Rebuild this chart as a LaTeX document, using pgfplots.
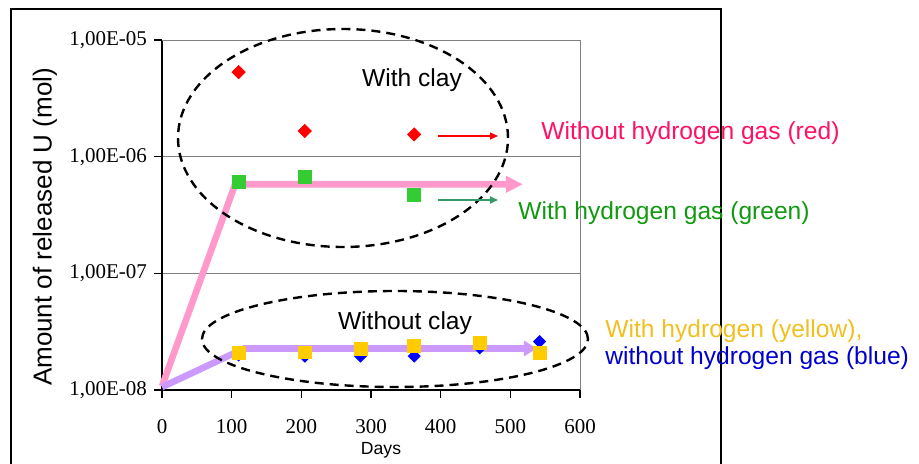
\documentclass[border=0pt]{standalone}
\usepackage{fontspec}
\setmainfont{Liberation Sans}
\newfontfamily\timesf{Liberation Serif}
\usepackage{pgfplots}
\pgfplotsset{compat=1.18}
\usetikzlibrary{arrows.meta}
\definecolor{mkred}{RGB}{255,0,0}
\definecolor{mkgreen}{RGB}{51,204,51}
\definecolor{mkyellow}{RGB}{255,204,0}
\definecolor{mkblue}{RGB}{0,0,255}
\definecolor{pinkarrow}{RGB}{255,153,204}
\definecolor{violetarrow}{RGB}{204,153,255}
\definecolor{txtred}{RGB}{255,17,102}
\definecolor{txtgreen}{RGB}{17,153,17}
\definecolor{txtyellow}{RGB}{240,192,32}
\definecolor{txtblue}{RGB}{0,0,204}
\definecolor{arrgreen}{RGB}{51,153,102}
\begin{document}
\begin{tikzpicture}[x=0.5pt,y=-0.5pt]
\useasboundingbox (0,0) rectangle (919,464);
\clip (0,0) rectangle (919,464);
% outer frame, bottom edge runs off the page
\draw[line width=1pt] (11,480) -- (11,9) -- (721,9) -- (721,480);
\begin{axis}[
  at={(81pt,-195pt)}, anchor=south west,
  scale only axis, width=209pt, height=175pt,
  xmin=0, xmax=600, ymode=log, ymin=1e-8, ymax=1e-5,
  axis x line*=bottom, axis y line*=left,
  axis line style={line width=0.6pt},
  xtick={0,100,...,600}, xticklabels={0,100,200,300,400,500,600},
  ytick={1e-8,1e-7,1e-6,1e-5},
  yticklabels={{1,00E-08},{1,00E-07},{1,00E-06},{1,00E-05}},
  yminorticks=false,
  tick align=outside, major tick length=4pt,
  tick style={black, line width=0.6pt},
  ymajorgrids, grid style={gray, line width=0.5pt},
  tick label style={font=\timesf\fontsize{10.5}{12}\selectfont},
  xticklabel style={yshift=-7pt},
  clip=false,
]
\draw[gray, line width=0.5pt] (rel axis cs:0,1) -- (rel axis cs:1,1) -- (rel axis cs:1,0);
% with clay, without hydrogen (red)
\addplot[only marks, mark=square*, mark size=2.3pt, mark options={rotate=45}, color=mkred]
  coordinates {(110,5.3e-6)(205,1.66e-6)(362,1.55e-6)};
% with clay, with hydrogen (green)
\addplot[only marks, mark=square*, mark size=3.2pt, color=mkgreen]
  coordinates {(110,6.1e-7)(205,6.7e-7)(362,4.7e-7)};
% without clay, without hydrogen (blue)
\addplot[only marks, mark=square*, mark size=2.1pt, mark options={rotate=45}, color=mkblue]
  coordinates {(110,2.0e-8)(205,1.95e-8)(285,1.95e-8)(362,1.95e-8)(456,2.3e-8)(542,2.6e-8)};
% without clay, with hydrogen (yellow)
\addplot[only marks, mark=square*, mark size=3.2pt, color=mkyellow]
  coordinates {(110,2.08e-8)(205,2.1e-8)(285,2.25e-8)(362,2.4e-8)(456,2.53e-8)(542,2.08e-8)};
% trend arrows
\addplot[color=pinkarrow, line width=3.3pt, line join=miter, -{Triangle[length=8.5pt,width=8pt]}]
  coordinates {(0,1.08e-8)(105,5.8e-7)(518,5.8e-7)};
\addplot[color=violetarrow, line width=3.3pt, line join=miter, -{Triangle[length=6.5pt,width=7.5pt]}]
  coordinates {(0,1.06e-8)(118,2.27e-8)(538,2.27e-8)};
\end{axis}
% annotations
\draw[line width=1.2pt, dash pattern=on 4.5pt off 3pt] (343,138) ellipse [x radius=82.5pt, y radius=54.5pt];
\draw[line width=1.2pt, dash pattern=on 4.5pt off 3pt] (395,339) ellipse [x radius=96.5pt, y radius=24pt];
\draw[mkred, line width=0.8pt, -{Triangle[length=4pt,width=3.5pt]}] (438,136) -- (498,136);
\draw[arrgreen, line width=0.8pt, -{Triangle[length=4pt,width=3.5pt]}] (438,200) -- (498,200);
\node[font=\fontsize{12.3}{14}\selectfont] at (412,80) {With clay};
\node[font=\fontsize{12.3}{14}\selectfont] at (405,323) {Without clay};
\node[font=\fontsize{12.3}{14}\selectfont, text=txtred, anchor=west, inner sep=0pt] at (541,133) {Without hydrogen gas (red)};
\node[font=\fontsize{12.3}{14}\selectfont, text=txtgreen, anchor=west, inner sep=0pt] at (518,213) {With hydrogen gas (green)};
\node[font=\fontsize{12.3}{14}\selectfont, text=txtyellow, anchor=west, inner sep=0pt] at (605,331) {With hydrogen (yellow),};
\node[font=\fontsize{12.3}{14}\selectfont, text=txtblue, anchor=west, inner sep=0pt] at (605,358) {without hydrogen gas (blue)};
\node[font=\fontsize{13}{15}\selectfont, rotate=90] at (45,227) {Amount of released U (mol)};
\node[font=\fontsize{8.8}{10}\selectfont] at (381,450) {Days};
\end{tikzpicture}
\end{document}
